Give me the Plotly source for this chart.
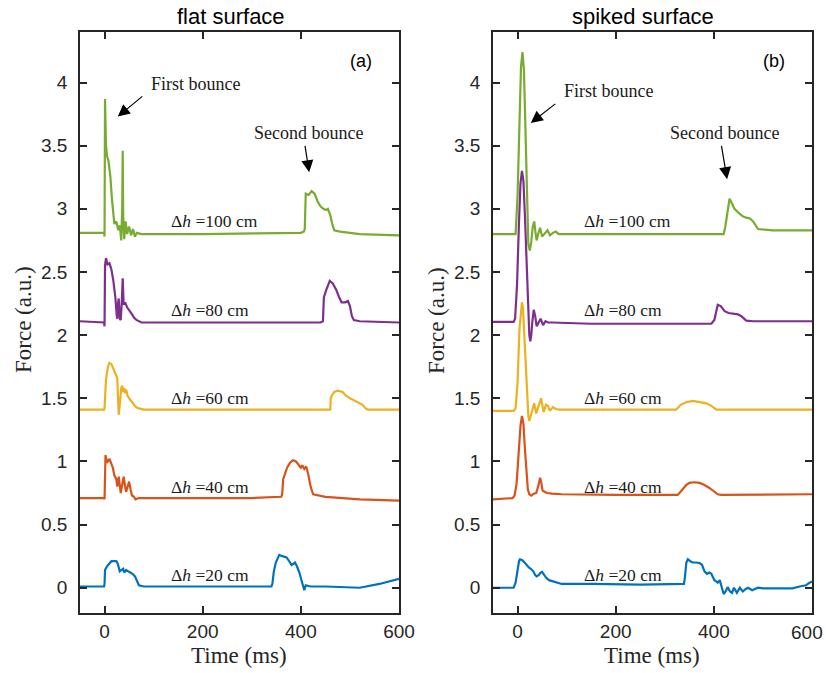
import plotly.graph_objects as go

# ---------------- data ----------------
heights = ["20", "40", "60", "80", "100"]
colors = ["#0072BD", "#D95319", "#EDB120", "#7E2F8E", "#77AC30"]

# flat surface (a)
flat_t20 = [-50, -1, 0, 1, 5, 10, 14, 20, 24, 27, 31, 34, 38, 40, 44, 48, 52, 57, 62, 66, 70, 80, 150, 250, 340,
            342, 345, 349, 353, 356, 362, 371, 378, 381, 385, 388, 392, 397, 402, 405, 407, 410, 420, 450, 500, 520, 560, 600]
flat_f20 = [0.01, 0.01, 0.03, 0.14, 0.17, 0.19, 0.21, 0.21, 0.21, 0.19, 0.13, 0.14, 0.15, 0.12, 0.14, 0.13, 0.12, 0.11, 0.09, 0.05, 0.02, 0.01, 0.01, 0.01, 0.01,
            0.03, 0.13, 0.20, 0.24, 0.26, 0.25, 0.24, 0.20, 0.18, 0.19, 0.20, 0.17, 0.12, 0.05, 0.0, -0.02, 0.02, 0.01, 0.01, 0.0, 0.0, 0.03, 0.07]

flat_t40 = [-50, -1, 0, 2, 5, 10, 14, 17, 20, 24, 26, 29, 33, 36, 39, 42, 44, 47, 50, 53, 56, 60, 63, 70, 150, 300,
            360, 362, 364, 367, 372, 378, 384, 390, 395, 400, 403, 407, 411, 415, 420, 425, 450, 520, 600]
flat_f40 = [0.71, 0.71, 0.70, 1.05, 0.99, 1.02, 0.98, 0.95, 0.89, 0.86, 0.80, 0.88, 0.75, 0.83, 0.88, 0.80, 0.76, 0.80, 0.84, 0.78, 0.73, 0.72, 0.70, 0.71, 0.71, 0.71,
            0.72, 0.74, 0.86, 0.89, 0.95, 0.99, 1.01, 1.00, 0.97, 0.95, 0.97, 0.94, 0.96, 0.90, 0.80, 0.74, 0.72, 0.70, 0.69]

flat_t60 = [-50, -1, 0, 3, 7, 10, 14, 18, 22, 26, 27, 29, 31, 34, 36, 38, 40, 42, 44, 47, 52, 58, 64, 70, 80, 200,
            460, 461, 463, 468, 476, 485, 492, 500, 510, 517, 525, 532, 537, 560, 600]
flat_f60 = [1.41, 1.41, 1.42, 1.65, 1.75, 1.78, 1.77, 1.73, 1.69, 1.66, 1.55, 1.37, 1.45, 1.58, 1.60, 1.55, 1.58, 1.54, 1.57, 1.52, 1.49, 1.46, 1.43, 1.42, 1.41, 1.41,
            1.41, 1.50, 1.52, 1.55, 1.56, 1.55, 1.52, 1.50, 1.48, 1.47, 1.45, 1.42, 1.41, 1.41, 1.41]

flat_t80 = [-50, -1, 0, 1, 3, 6, 10, 14, 18, 22, 25, 26, 27, 29, 31, 33, 35, 37, 39, 42, 46, 50, 55, 60, 65, 75, 200,
            440, 445, 447, 452, 459, 465, 472, 478, 483, 490, 496, 500, 504, 508, 520, 600]
flat_f80 = [2.11, 2.10, 2.07, 2.55, 2.61, 2.56, 2.57, 2.52, 2.43, 2.30, 2.15, 2.13, 2.24, 2.29, 2.13, 2.12, 2.25, 2.45, 2.24, 2.26, 2.22, 2.20, 2.17, 2.14, 2.12, 2.10, 2.10,
            2.10, 2.11, 2.30, 2.36, 2.43, 2.41, 2.36, 2.30, 2.26, 2.26, 2.27, 2.23, 2.15, 2.12, 2.11, 2.10]

flat_t100 = [-50, -1, 0, 1, 3, 5, 8, 12, 15, 17, 20, 24, 28, 31, 33, 34, 36, 37, 38, 40, 43, 46, 50, 54, 58, 62, 66, 75, 200,
             400, 406, 408, 410, 416, 422, 428, 434, 440, 446, 451, 455, 460, 464, 468, 480, 520, 600]
flat_f100 = [2.81, 2.81, 2.78, 3.87, 3.50, 3.42, 3.38, 3.25, 3.08, 3.00, 2.88, 2.90, 2.83, 2.87, 2.76, 2.75, 3.00, 3.46, 2.95, 2.76, 2.90, 2.80, 2.86, 2.79, 2.84, 2.78, 2.81, 2.80, 2.80,
             2.81, 2.82, 2.84, 3.12, 3.11, 3.14, 3.12, 3.06, 3.02, 3.00, 2.99, 3.00, 2.95, 2.88, 2.83, 2.82, 2.80, 2.79]

# spiked surface (b)
spk_t20 = [-50, -8, -4, 0, 3, 5, 9, 13, 18, 23, 27, 32, 36, 39, 43, 47, 50, 54, 58, 64, 72, 80, 90, 150, 250,
           339, 341, 344, 347, 352, 357, 364, 371, 376, 381, 386, 391, 395, 398, 401, 405, 408, 412, 416, 420, 424, 428,
           433, 437, 441, 447, 453, 459, 465, 470, 478, 485, 490, 500, 530, 560, 575, 588, 595, 600]
spk_f20 = [0.0, 0.0, 0.04, 0.15, 0.21, 0.225, 0.22, 0.205, 0.18, 0.16, 0.15, 0.13, 0.10, 0.09, 0.10, 0.12, 0.125, 0.10, 0.08, 0.06, 0.05, 0.04, 0.03, 0.03, 0.025,
           0.03, 0.08, 0.20, 0.225, 0.21, 0.20, 0.20, 0.195, 0.18, 0.13, 0.11, 0.12, 0.11, 0.09, 0.06, 0.05, 0.04, 0.06, 0.0, -0.05, -0.03, 0.005,
           -0.03, -0.04, 0.0, -0.04, 0.0, -0.03, -0.01, 0.0, -0.02, -0.005, 0.0, -0.005, -0.005, -0.005, 0.01, 0.02, 0.04, 0.05]

spk_t40 = [-50, -10, -6, -2, 2, 6, 9, 12, 15, 18, 21, 24, 28, 33, 38, 42, 44, 46, 48, 51, 55, 60, 70, 90, 200,
           326, 330, 336, 343, 350, 360, 371, 380, 391, 400, 408, 415, 450, 530, 600]
spk_f40 = [0.70, 0.71, 0.73, 0.82, 1.05, 1.28, 1.36, 1.30, 1.10, 0.90, 0.78, 0.74, 0.73, 0.745, 0.75, 0.80, 0.85, 0.87, 0.84, 0.77, 0.76, 0.75, 0.745, 0.74, 0.735,
           0.735, 0.75, 0.78, 0.81, 0.83, 0.835, 0.83, 0.815, 0.79, 0.76, 0.74, 0.735, 0.735, 0.735, 0.74]

spk_t60 = [-50, -8, -4, 0, 4, 7, 9, 11, 14, 17, 20, 22, 24, 27, 30, 34, 38, 43, 48, 53, 58, 62, 66, 72, 78, 85, 150, 300,
           323, 333, 345, 357, 365, 375, 385, 395, 405, 450, 600]
spk_f60 = [1.40, 1.40, 1.42, 1.62, 2.05, 2.22, 2.26, 2.22, 2.00, 1.72, 1.48, 1.36, 1.32, 1.36, 1.42, 1.46, 1.38, 1.45, 1.50, 1.39, 1.45, 1.44, 1.40, 1.43, 1.415, 1.41, 1.41, 1.41,
           1.41, 1.45, 1.47, 1.48, 1.475, 1.465, 1.46, 1.44, 1.41, 1.41, 1.41]

spk_t80 = [-50, -8, -5, -1, 3, 6, 9, 12, 15, 18, 21, 24, 26, 28, 30, 33, 36, 39, 43, 47, 52, 57, 62, 70, 150, 300,
           395, 401, 405, 408, 414, 422, 430, 440, 449, 456, 462, 466, 480, 600]
spk_f80 = [2.105, 2.105, 2.13, 2.40, 2.90, 3.20, 3.30, 3.22, 2.95, 2.60, 2.25, 2.00, 1.95, 2.00, 2.10, 2.20, 2.15, 2.07, 2.10, 2.13, 2.08, 2.11, 2.10, 2.10, 2.09, 2.09,
           2.09, 2.12, 2.20, 2.24, 2.23, 2.19, 2.175, 2.17, 2.165, 2.15, 2.125, 2.115, 2.11, 2.11]

spk_t100 = [-50, -4, 0, 4, 7, 10, 13, 16, 19, 22, 25, 28, 31, 34, 37, 39, 42, 46, 50, 55, 61, 66, 72, 78, 84, 90, 150, 300,
            420, 423, 428, 432, 436, 442, 450, 459, 466, 473, 480, 490, 520, 600]
spk_f100 = [2.80, 2.80, 3.10, 3.75, 4.12, 4.24, 4.10, 3.65, 3.05, 2.72, 2.67, 2.74, 2.86, 2.90, 2.80, 2.75, 2.80, 2.85, 2.78, 2.80, 2.83, 2.79, 2.81, 2.82, 2.80, 2.80, 2.80, 2.80,
            2.80, 2.85, 3.00, 3.08, 3.05, 3.00, 2.97, 2.94, 2.93, 2.925, 2.90, 2.84, 2.83, 2.83]

flat_series = [(flat_t20, flat_f20), (flat_t40, flat_f40), (flat_t60, flat_f60), (flat_t80, flat_f80), (flat_t100, flat_f100)]
spk_series = [(spk_t20, spk_f20), (spk_t40, spk_f40), (spk_t60, spk_f60), (spk_t80, spk_f80), (spk_t100, spk_f100)]

label_y = [0.10, 0.80, 1.50, 2.20, 2.905]
label_t = 131

ytick_vals = [0, 0.5, 1, 1.5, 2, 2.5, 3, 3.5, 4]
ytick_text = ["0", "0.5", "1", "1.5", "2", "2.5", "3", "3.5", "4"]
xtick_vals = [0, 200, 400, 600]
xtick_text = ["0", "200", "400", "600"]

panel_titles = ["flat surface", "spiked surface"]
panel_tags = ["(a)", "(b)"]

# ---------------- figure ----------------
W, H = 826, 673
AX = "#262626"
SANS = "Liberation Sans, Arial, Helvetica, sans-serif"
SERIF = "Liberation Serif, Times New Roman, serif"
TICK_SIZE = 19

fig = go.Figure()
for (t, f), c in zip(flat_series, colors):
    fig.add_trace(go.Scatter(x=t, y=f, mode="lines", line=dict(color=c, width=2.2),
                             xaxis="x", yaxis="y", showlegend=False, hoverinfo="skip"))
for (t, f), c in zip(spk_series, colors):
    fig.add_trace(go.Scatter(x=t, y=f, mode="lines", line=dict(color=c, width=2.2),
                             xaxis="x2", yaxis="y2", showlegend=False, hoverinfo="skip"))

def px_x(p):
    return p / W

def px_y(p):
    return 1 - p / H

dom_left = [px_x(80), px_x(399)]
dom_right = [px_x(493), px_x(812)]
dom_y = [px_y(613), px_y(32)]

axis_common = dict(showline=True, linecolor=AX, linewidth=1.8, mirror="ticks",
                   ticks="inside", ticklen=7, tickwidth=1.8, tickcolor=AX,
                   showgrid=False, zeroline=False, automargin=False,
                   tickfont=dict(family=SANS, size=TICK_SIZE, color=AX))

# right panel: last x tick label is drawn as an annotation so it stays inside the page
xtick_text_right = xtick_text[:-1] + [""]

fig.update_layout(
    width=W, height=H, autosize=False,
    margin=dict(l=0, r=0, t=0, b=0, pad=0, autoexpand=False),
    paper_bgcolor="white", plot_bgcolor="white",
    xaxis=dict(domain=dom_left, range=[-50, 600], tickvals=xtick_vals, ticktext=xtick_text,
               anchor="y", **axis_common),
    yaxis=dict(domain=dom_y, range=[-0.2, 4.4], tickvals=ytick_vals, ticktext=ytick_text,
               anchor="x", ticklabelstandoff=7, **axis_common),
    xaxis2=dict(domain=dom_right, range=[-50, 600], tickvals=xtick_vals, ticktext=xtick_text_right,
                anchor="y2", **axis_common),
    yaxis2=dict(domain=dom_y, range=[-0.2, 4.4], tickvals=ytick_vals, ticktext=ytick_text,
                anchor="x2", ticklabelstandoff=7, **axis_common),
)

ann = []
for i, (xr, yr) in enumerate([("x", "y"), ("x2", "y2")]):
    for h, ly in zip(heights, label_y):
        ann.append(dict(x=label_t, y=ly, xref=xr, yref=yr, xanchor="left", yanchor="middle",
                        text="Δ<i>h</i>&nbsp;=" + h + "&nbsp;cm", showarrow=False,
                        font=dict(family=SERIF, size=17.5, color="#1a1a1a")))
    ann.append(dict(x=522, y=4.17, xref=xr, yref=yr, text=panel_tags[i], showarrow=False,
                    xanchor="center", yanchor="middle",
                    font=dict(family=SANS, size=18, color="black")))

ann.append(dict(x=px_x(825), y=px_y(632), xref="paper", yref="paper", text=xtick_text[-1],
                showarrow=False, xanchor="right", yanchor="middle",
                font=dict(family=SANS, size=TICK_SIZE, color=AX)))

bounce_texts = [
    ("x", "y", 186, 3.99, 27, 3.73, 80, 3.90, "First bounce"),
    ("x", "y", 415, 3.60, 417, 3.29, 408, 3.51, "Second bounce"),
    ("x2", "y2", 186, 3.93, 27, 3.68, 80, 3.84, "First bounce"),
    ("x2", "y2", 422, 3.60, 427, 3.235, 415, 3.51, "Second bounce"),
]
for xr, yr, tx, ty, hx, hy, sx, sy, txt in bounce_texts:
    ann.append(dict(x=tx, y=ty, xref=xr, yref=yr, text=txt, showarrow=False,
                    xanchor="center", yanchor="middle",
                    font=dict(family=SERIF, size=18, color="#1a1a1a")))
    ann.append(dict(x=hx, y=hy, ax=sx, ay=sy, xref=xr, yref=yr, axref=xr, ayref=yr,
                    text="", showarrow=True, arrowhead=2, arrowsize=2.0, arrowwidth=1.2,
                    arrowcolor="black"))

for cx, title in zip([231, 643], panel_titles):
    ann.append(dict(x=px_x(cx), y=px_y(16), xref="paper", yref="paper", text=title,
                    showarrow=False, xanchor="center", yanchor="middle",
                    font=dict(family=SANS, size=22, color="black")))
for cx in [239, 652]:
    ann.append(dict(x=px_x(cx), y=px_y(655), xref="paper", yref="paper", text="Time (ms)",
                    showarrow=False, xanchor="center", yanchor="middle",
                    font=dict(family=SERIF, size=23, color=AX)))
for cx in [23, 436]:
    ann.append(dict(x=px_x(cx), y=px_y(320), xref="paper", yref="paper", text="Force (a.u.)",
                    showarrow=False, xanchor="center", yanchor="middle", textangle=-90,
                    font=dict(family=SERIF, size=23, color=AX)))

fig.update_layout(annotations=ann)

post = ("document.body.style.margin='0';document.body.style.overflow='hidden';")
fig.write_html("out.html", config={"displayModeBar": False, "responsive": False},
               post_script=post)
